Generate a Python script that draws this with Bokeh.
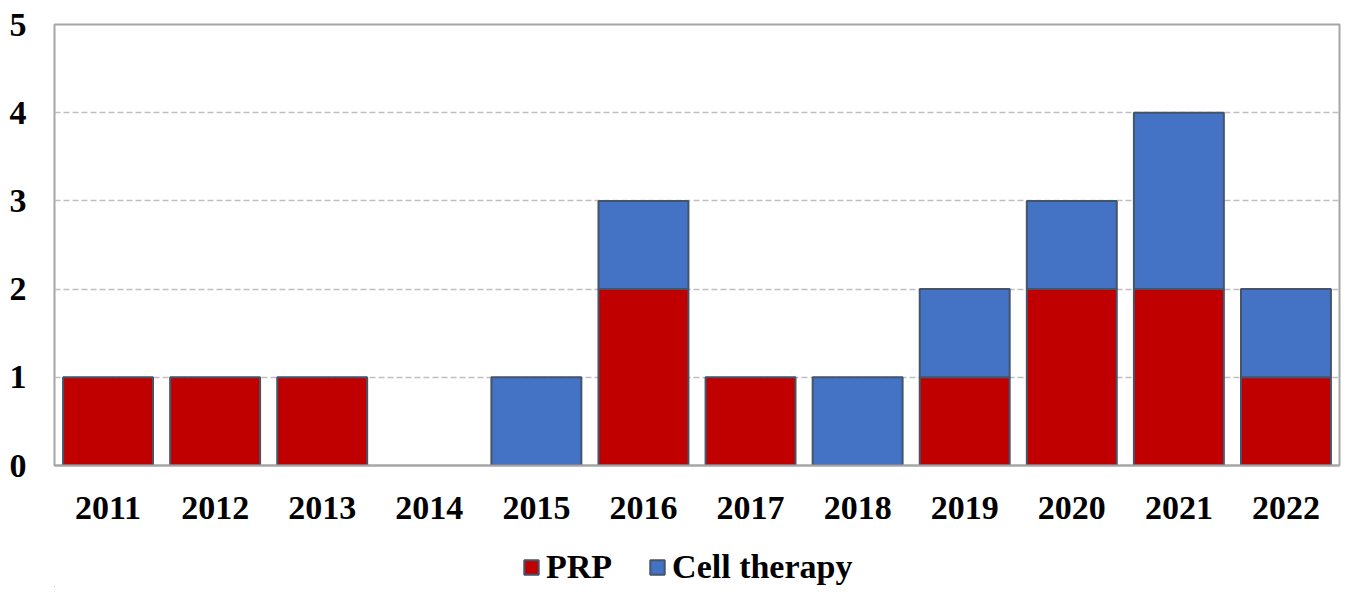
from bokeh.plotting import figure
from bokeh.models import Legend, LegendItem, Range1d, FactorRange, ColumnDataSource
from bokeh.layouts import column
from bokeh.embed import file_html
from bokeh.resources import INLINE

years = ["2011", "2012", "2013", "2014", "2015", "2016", "2017", "2018", "2019", "2020", "2021", "2022"]
prp = [1, 1, 1, 0, 0, 2, 1, 0, 1, 2, 2, 1]
cell_therapy = [0, 0, 0, 0, 1, 1, 0, 1, 1, 1, 2, 1]
series = ["PRP", "Cell therapy"]
colors = ["#C00000", "#4472C4"]
y_ticks = [0, 1, 2, 3, 4, 5]

src = ColumnDataSource(dict(
    years=years, PRP=prp, **{"Cell therapy": cell_therapy},
    prp_la=[1.0 if v > 0 else 0.0 for v in prp],
    ct_la=[1.0 if v > 0 else 0.0 for v in cell_therapy],
))

FONT = "Liberation Serif"
EDGE = "#44546A"

p = figure(width=1341, height=540,
           x_range=FactorRange(*years, range_padding=0),
           y_range=Range1d(0, 5), output_backend="svg", toolbar_location=None,
           min_border_left=54, min_border_top=24, min_border_right=2, min_border_bottom=75)

rs = p.vbar_stack(series, x="years", source=src, width=0.84, color=colors,
                  line_color=EDGE, line_width=2, line_alpha=["prp_la", "ct_la"])

p.xgrid.grid_line_color = None
p.ygrid.grid_line_color = "#BFBFBF"
p.ygrid.grid_line_dash = "6 3"
p.ygrid.grid_line_width = 1.5

p.outline_line_color = "#A6A6A6"
p.outline_line_width = 2

p.yaxis.ticker = y_ticks
p.yaxis.axis_line_color = None
p.yaxis.major_tick_line_color = None
p.yaxis.minor_tick_line_color = None
p.yaxis.major_label_text_font = FONT
p.yaxis.major_label_text_font_style = "bold"
p.yaxis.major_label_text_font_size = "34px"
p.yaxis.major_label_text_color = "#000000"
p.yaxis.major_label_standoff = 22

p.xaxis.axis_line_color = "#A6A6A6"
p.xaxis.axis_line_width = 2
p.xaxis.major_tick_line_color = None
p.xaxis.minor_tick_line_color = None
p.xaxis.major_label_text_font = FONT
p.xaxis.major_label_text_font_style = "bold"
p.xaxis.major_label_text_font_size = "34px"
p.xaxis.major_label_text_color = "#000000"
p.xaxis.major_label_standoff = 25

# legend strip below the chart (dummy renderers lie outside the visible range)
lg = figure(width=1341, height=47, x_range=Range1d(0, 1), y_range=Range1d(0, 1),
            output_backend="svg", toolbar_location=None,
            x_axis_type=None, y_axis_type=None,
            min_border_left=0, min_border_right=0, min_border_top=0, min_border_bottom=0)
lg.outline_line_color = None
lg.xgrid.grid_line_color = None
lg.ygrid.grid_line_color = None
lrs = [lg.vbar(x=[-5], top=[-5], bottom=[-6], width=0.5, fill_color=c,
               line_color=EDGE, line_width=2) for c in colors]

legend = Legend(items=[LegendItem(label=s, renderers=[r]) for s, r in zip(series, lrs)],
                orientation="horizontal", location=(468, 1))
legend.label_text_font = FONT
legend.label_text_font_style = "bold"
legend.label_text_font_size = "34px"
legend.label_text_color = "#000000"
legend.glyph_width = 18
legend.glyph_height = 18
legend.spacing = 36
legend.label_standoff = 6
legend.border_line_color = None
legend.background_fill_alpha = 0
legend.margin = 0
legend.padding = 0
lg.add_layout(legend, "center")

layout = column(p, lg, spacing=0)
open("out.html", "w").write(file_html(layout, INLINE))
